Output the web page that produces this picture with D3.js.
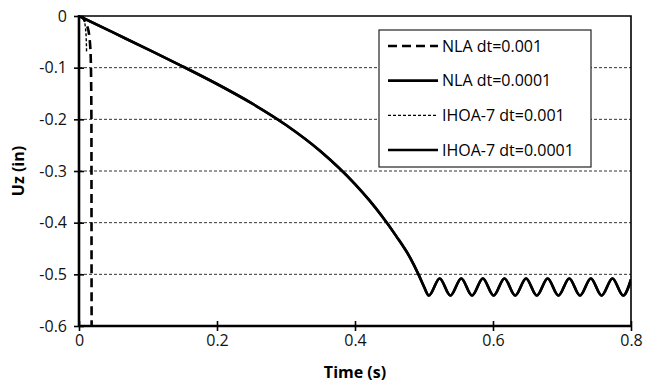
<!DOCTYPE html>
<html>
<head>
<meta charset="utf-8">
<script src="https://cdn.jsdelivr.net/npm/d3@7.9.0/dist/d3.min.js"></script>
<style>
  body { margin: 0; background: #fff; }
  svg { display: block; font-family: "Open Sans", sans-serif; }
</style>
</head>
<body>
<svg id="chart" width="645" height="384"></svg>
<script>
// Data
const timeTicks = [0, 0.2, 0.4, 0.6, 0.8];
const uzTicks = [0, -0.1, -0.2, -0.3, -0.4, -0.5, -0.6];

// NLA dt=0.001 (diverges right after the start)
const nlaCoarseTime = [0, 0.004, 0.008, 0.012, 0.015, 0.017, 0.018, 0.0182, 0.0184];
const nlaCoarseUz = [0, -0.002, -0.008, -0.02, -0.04, -0.08, -0.2, -0.5, -0.7];

// IHOA-7 dt=0.001 (stops shortly after start)
const ihoaCoarseTime = [0, 0.004, 0.008, 0.0095, 0.0105, 0.011];
const ihoaCoarseUz = [0, -0.003, -0.012, -0.025, -0.045, -0.07];

// NLA dt=0.0001 and IHOA-7 dt=0.0001 (same curve)
const fineTime = [0, 0.05, 0.1, 0.15, 0.2, 0.25, 0.3, 0.35, 0.4, 0.42, 0.44, 0.46, 0.48, 0.492, 0.5, 0.507,
  0.5227, 0.5383, 0.554, 0.5696, 0.5853, 0.6009, 0.6166, 0.6322, 0.6479, 0.6635, 0.6792, 0.6948,
  0.7105, 0.7261, 0.7418, 0.7574, 0.7731, 0.7887, 0.8];
const nlaFineUz = [0, -0.0323, -0.0646, -0.0974, -0.1316, -0.1687, -0.2109, -0.2617, -0.3253, -0.3555,
  -0.3891, -0.4265, -0.4681, -0.5, -0.524, -0.541,
  -0.508, -0.541, -0.508, -0.541, -0.508, -0.541, -0.508, -0.541, -0.508, -0.541, -0.508, -0.541,
  -0.508, -0.541, -0.508, -0.541, -0.508, -0.541, -0.51];
const ihoaFineUz = [0, -0.0323, -0.0646, -0.0974, -0.1316, -0.1687, -0.2109, -0.2617, -0.3253, -0.3555,
  -0.3891, -0.4265, -0.4681, -0.5, -0.524, -0.541,
  -0.508, -0.541, -0.508, -0.541, -0.508, -0.541, -0.508, -0.541, -0.508, -0.541, -0.508, -0.541,
  -0.508, -0.541, -0.508, -0.541, -0.508, -0.541, -0.51];

const seriesNames = ["NLA dt=0.001", "NLA dt=0.0001", "IHOA-7 dt=0.001", "IHOA-7 dt=0.0001"];

const svg = d3.select("#chart");
const plotLeft = 79, plotRight = 631, plotTop = 16, plotBottom = 326;

let x = d3.scaleLinear().domain([0, 0.8]).range([plotLeft, plotRight]);
let y = d3.scaleLinear().domain([-0.6, 0]).range([plotBottom, plotTop]);

// clip lines to the plot area
svg.append("clipPath").attr("id", "plot-clip")
  .append("rect").attr("x", plotLeft).attr("y", plotTop)
  .attr("width", plotRight - plotLeft).attr("height", plotBottom - plotTop);

// dashed horizontal gridlines
svg.append("g")
  .selectAll("line")
  .data(uzTicks.filter(d => d !== 0 && d !== -0.6))
  .enter()
  .append("line")
  .attr("x1", plotLeft).attr("x2", plotRight)
  .attr("y1", d => y(d)).attr("y2", d => y(d))
  .attr("stroke", "#333")
  .attr("stroke-width", 1)
  .attr("stroke-dasharray", "3,2");

// plot frame (top + right)
svg.append("path")
  .attr("d", `M${plotLeft},${plotTop}H${plotRight}V${plotBottom}`)
  .attr("fill", "none")
  .attr("stroke", "#000")
  .attr("stroke-width", 1.6);

let line = d3.line()
  .x(d => x(d[0]))
  .y(d => y(d[1]))
  .curve(d3.curveMonotoneX);

let series = [
  { time: nlaCoarseTime, uz: nlaCoarseUz, width: 2.6, dash: "9,5" },
  { time: fineTime, uz: nlaFineUz, width: 2.6, dash: null },
  { time: ihoaCoarseTime, uz: ihoaCoarseUz, width: 1.4, dash: "3,2" },
  { time: fineTime, uz: ihoaFineUz, width: 2.6, dash: null }
];

let lines = svg.append("g").attr("clip-path", "url(#plot-clip)");
series.forEach(s => {
  lines.append("path")
    .datum(s.time.map((t, i) => [t, s.uz[i]]))
    .attr("d", line)
    .attr("fill", "none")
    .attr("stroke", "#000")
    .attr("stroke-width", s.width)
    .attr("stroke-dasharray", s.dash)
    .attr("stroke-linejoin", "round");
});

// Axes with ticks crossing the axis line (hyphen minus like the original)
let fmt = d => String(d);
let yAxis = svg.append("g")
  .attr("transform", `translate(${plotLeft},0)`)
  .call(d3.axisLeft(y).tickValues(uzTicks).tickSize(5).tickFormat(fmt));
let xAxis = svg.append("g")
  .attr("transform", `translate(0,${plotBottom})`)
  .call(d3.axisBottom(x).tickValues(timeTicks).tickSize(5).tickFormat(fmt));

[yAxis, xAxis].forEach(a => {
  a.select(".domain").remove();
  a.selectAll(".tick line").attr("stroke", "#000").attr("stroke-width", 1.6);
  a.selectAll(".tick text").attr("font-size", 16).attr("font-family", "Open Sans").attr("fill", "#111");
});
yAxis.selectAll(".tick line").attr("x1", 5);
yAxis.selectAll(".tick text").attr("x", -12);
xAxis.selectAll(".tick line").attr("y1", -5);
xAxis.selectAll(".tick text").attr("y", 9);

svg.append("line").attr("x1", plotLeft).attr("x2", plotLeft).attr("y1", plotTop - 1).attr("y2", plotBottom)
  .attr("stroke", "#000").attr("stroke-width", 2.6);
svg.append("line").attr("x1", plotLeft).attr("x2", plotRight + 1).attr("y1", plotBottom).attr("y2", plotBottom)
  .attr("stroke", "#000").attr("stroke-width", 2.6);

// Axis titles
svg.append("text")
  .attr("x", (plotLeft + plotRight) / 2).attr("y", 378)
  .attr("text-anchor", "middle")
  .attr("font-size", 16).attr("font-weight", "bold")
  .text("Time (s)");
svg.append("text")
  .attr("transform", `translate(24,${(plotTop + plotBottom) / 2}) rotate(-90)`)
  .attr("text-anchor", "middle")
  .attr("font-size", 16).attr("font-weight", "bold")
  .text("Uz (in)");

// Legend
let legend = svg.append("g");
legend.append("rect")
  .attr("x", 379).attr("y", 30).attr("width", 212).attr("height", 137)
  .attr("fill", "#fff").attr("stroke", "#222").attr("stroke-width", 1.2);

let rowY = d3.scalePoint().domain(seriesNames).range([46, 150]);
let items = legend.selectAll("g.item")
  .data(series.map((s, i) => ({ ...s, name: seriesNames[i] })))
  .enter()
  .append("g")
  .attr("transform", d => `translate(0,${rowY(d.name)})`);
items.append("line")
  .attr("x1", 388).attr("x2", 438)
  .attr("stroke", "#000")
  .attr("stroke-width", d => d.width)
  .attr("stroke-dasharray", d => d.dash);
items.append("text")
  .attr("x", 442).attr("dy", "0.35em")
  .attr("font-size", 16)
  .text(d => d.name);
</script>
</body>
</html>
